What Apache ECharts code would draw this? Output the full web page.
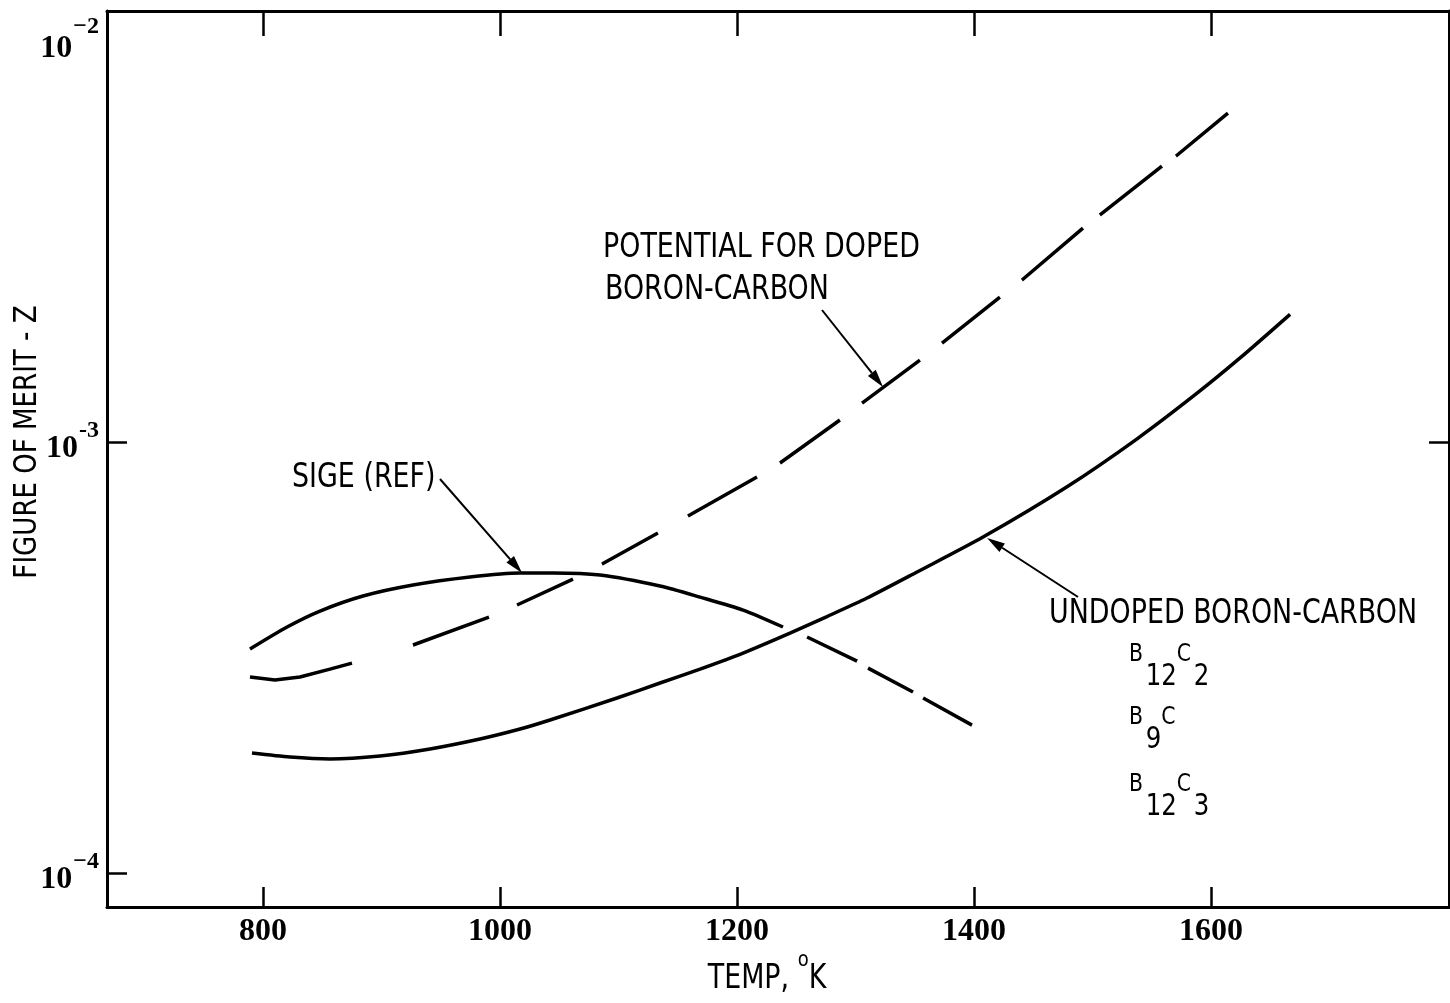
<!DOCTYPE html>
<html><head><meta charset="utf-8">
<script src="https://cdn.jsdelivr.net/npm/echarts@6/dist/echarts.min.js"></script>
<style>html,body{margin:0;padding:0;background:#fff}#c{width:1450px;height:1003px}</style>
</head><body><div id="c"></div>
<script>
// ---- tick labels ----
const xTicks = [800, 1000, 1200, 1400, 1600];
const yTicks = [1e-4, 1e-3, 1e-2];

// ---- SiGe (reference), solid part ----
const sigeT = [789.0, 820.3, 848.1, 884.4, 926.6, 974.7, 1016.9, 1044.7, 1084.4, 1135.0, 1168.8, 1205.1, 1238.8];
const sigeZ = [3.309e-4, 3.722e-4, 4.053e-4, 4.392e-4, 4.658e-4, 4.862e-4, 4.968e-4, 4.968e-4, 4.914e-4, 4.633e-4, 4.367e-4, 4.075e-4, 3.722e-4];
// ---- SiGe, dashed continuation ----
const sigeExtT = [1259.1, 1301.3, 1310.5, 1348.5, 1357.0, 1398.3];
const sigeExtZ = [3.528e-4, 3.103e-4, 2.989e-4, 2.630e-4, 2.547e-4, 2.204e-4];
// ---- Potential for doped boron-carbon (dashed) ----
const dopedT = [789.0, 810.1, 831.2, 856.5, 875.1, 926.6, 990.7, 1014.3, 1061.6, 1086.1, 1133.3, 1158.6, 1216.9, 1236.3, 1286.9, 1305.5, 1354.4, 1373.0, 1421.9, 1440.5, 1492.0, 1506.3, 1558.6, 1570.5, 1614.3];
const dopedZ = [2.850e-4, 2.805e-4, 2.850e-4, 2.973e-4, 3.070e-4, 3.381e-4, 3.926e-4, 4.185e-4, 4.809e-4, 5.210e-4, 6.150e-4, 6.735e-4, 8.294e-4, 8.938e-4, 1.125e-3, 1.231e-3, 1.550e-3, 1.697e-3, 2.170e-3, 2.376e-3, 3.137e-3, 3.363e-3, 4.369e-3, 4.609e-3, 5.799e-3];
// ---- Undoped boron-carbon ----
const undopedT = [790.7, 822.8, 856.5, 898.7, 940.9, 983.1, 1016.9, 1042.2, 1098.7, 1135.0, 1168.8, 1205.1, 1244.7, 1275.9, 1309.7, 1351.9, 1407.6, 1478.5, 1537.6, 1588.2, 1624.5, 1666.7];
const undopedZ = [1.898e-4, 1.858e-4, 1.839e-4, 1.869e-4, 1.940e-4, 2.046e-4, 2.158e-4, 2.265e-4, 2.547e-4, 2.760e-4, 2.973e-4, 3.239e-4, 3.603e-4, 3.936e-4, 4.345e-4, 4.993e-4, 6.018e-4, 7.873e-4, 1.0172e-3, 1.298e-3, 1.567e-3, 1.978e-3];

const zip = (a, b) => a.map((v, i) => [v, b[i]]);

const xMin = 668.35, xMax = 1800.8;
const yMin = 8.34e-5, yMax = 1e-2;

const NARROW = '"Liberation Sans Narrow", "DejaVu Sans Condensed", sans-serif';
const SERIF = '"Liberation Serif", "DejaVu Serif", serif';
const SQUEEZE = 0.906;

const chart = echarts.init(document.getElementById('c'), null, {renderer: 'canvas'});
const axisLineStyle = {color: '#000', width: 3};
const tickStyle = {color: '#000', width: 2.5};
const lineBase = {type: 'line', symbol: 'none', silent: true, animation: false, xAxisIndex: 0, yAxisIndex: 0};
const supBase = {fontFamily: SERIF, fontWeight: 'bold', color: '#000'};

chart.setOption({
  animation: false,
  backgroundColor: '#fff',
  grid: {left: 107, right: 1, top: 11, bottom: 96, containLabel: false, outerBoundsMode: 'none'},
  xAxis: [{
    type: 'value', min: xMin, max: xMax, position: 'bottom',
    axisLine: {show: true, lineStyle: axisLineStyle},
    axisTick: {show: true, inside: true, length: 20, lineStyle: tickStyle, customValues: xTicks},
    axisLabel: {customValues: xTicks, margin: 9, formatter: v => String(v),
      fontFamily: SERIF, fontWeight: 'bold', fontSize: 32, color: '#000'},
    splitLine: {show: false}
  }, {
    type: 'value', min: xMin, max: xMax, position: 'top',
    axisLine: {show: true, lineStyle: axisLineStyle},
    axisTick: {show: true, inside: true, length: 25, lineStyle: tickStyle, customValues: xTicks},
    axisLabel: {show: false}, splitLine: {show: false}
  }],
  yAxis: [{
    type: 'log', logBase: 10, min: yMin, max: yMax, position: 'left',
    axisLine: {show: true, lineStyle: axisLineStyle},
    axisTick: {show: true, inside: true, length: 20, lineStyle: tickStyle, customValues: [1e-4, 1e-3]},
    axisLabel: {customValues: yTicks, margin: 8,
      formatter: v => {
        const e = Math.round(Math.log10(v));
        if (e === -2) return '{bt|10}{st|\u2212' + Math.abs(e) + '}';
        if (e === -3) return '{b|10}{s|-' + Math.abs(e) + '}';
        return '{b|10}{s|\u2212' + Math.abs(e) + '}';
      },
      rich: {
        b: Object.assign({fontSize: 32, height: 30, lineHeight: 44, verticalAlign: 'bottom'}, supBase),
        s: Object.assign({fontSize: 24, height: 22, lineHeight: 44, verticalAlign: 'top', padding: [0, 0, 0, 1]}, supBase),
        bt: Object.assign({fontSize: 32, height: 30, lineHeight: 106, verticalAlign: 'bottom'}, supBase),
        st: Object.assign({fontSize: 24, height: 138, lineHeight: 106, verticalAlign: 'top', padding: [0, 0, 0, 1]}, supBase)
      }
    },
    splitLine: {show: false}
  }, {
    type: 'log', logBase: 10, min: yMin, max: yMax, position: 'right',
    axisLine: {show: true, lineStyle: axisLineStyle},
    axisTick: {show: true, inside: true, length: 20, lineStyle: tickStyle, customValues: [1e-3]},
    axisLabel: {show: false}, splitLine: {show: false}
  }],
  series: [
    Object.assign({}, lineBase, {name: 'SIGE (REF)', data: zip(sigeT, sigeZ), smooth: 0.25,
      lineStyle: {color: '#000', width: 3.5}}),
    Object.assign({}, lineBase, {name: 'SIGE (REF), extended', data: zip(sigeExtT, sigeExtZ),
      lineStyle: {color: '#000', width: 3.5, type: [55.5, 13, 51, 11.7, 56, 20]}}),
    Object.assign({}, lineBase, {name: 'POTENTIAL FOR DOPED BORON-CARBON', data: zip(dopedT, dopedZ),
      lineStyle: {color: '#000', width: 3.5,
        type: [104.2, 63.6, 81, 30.5, 61.7, 32.6, 64, 34.5, 79.3, 26.9, 73.8, 27.8, 72.2, 27.8, 74, 27.8, 80.2, 21.4, 79, 17.2, 67.5, 20]}}),
    Object.assign({}, lineBase, {name: 'UNDOPED BORON-CARBON', data: zip(undopedT, undopedZ), smooth: 0.25,
      lineStyle: {color: '#000', width: 3.5}})
  ]
});

// ---- annotations ----
const toPx = p => chart.convertToPixel({xAxisIndex: 0, yAxisIndex: 0}, p);
function arrow(tail, tip) {
  const dx = tip[0] - tail[0], dy = tip[1] - tail[1], L = Math.hypot(dx, dy);
  const ux = dx / L, uy = dy / L, hl = 18, hw = 5;
  const bx = tip[0] - ux * hl, by = tip[1] - uy * hl;
  return [
    {type: 'line', silent: true, shape: {x1: tail[0], y1: tail[1], x2: bx, y2: by}, style: {stroke: '#000', lineWidth: 2}},
    {type: 'polygon', silent: true, shape: {points: [tip, [bx - uy * hw, by + ux * hw], [bx + uy * hw, by - ux * hw]]}, style: {fill: '#000'}}
  ];
}
function label(text, x, y, size, opts) {
  const o = opts || {};
  return {type: 'text', x: x, y: y, silent: true, scaleX: SQUEEZE, rotation: o.rotation || 0,
    style: {text: text, fontFamily: NARROW, fontSize: size, fill: '#000',
      align: o.align || 'left', verticalAlign: o.valign || 'middle',
      textAlign: o.align || 'left', textVerticalAlign: o.valign || 'middle', rich: o.rich}};
}
const formulaRich = {
  b: {fontFamily: NARROW, fontSize: 25, height: 26, lineHeight: 51, fill: '#000', verticalAlign: 'top'},
  s: {fontFamily: NARROW, fontSize: 30, height: 30, lineHeight: 51, fill: '#000', verticalAlign: 'bottom', padding: [0, 0, 0, 3]}
};
const tempRich = {
  t: {fontFamily: NARROW, fontSize: 33, height: 30, lineHeight: 44, fill: '#000', verticalAlign: 'bottom'},
  o: {fontFamily: NARROW, fontSize: 22, height: 20, lineHeight: 44, fill: '#000', verticalAlign: 'top'}
};
const g = [];
g.push(label('POTENTIAL FOR DOPED', 603, 248, 33));
g.push(label('BORON-CARBON', 605, 290, 33));
g.push(label('SIGE (REF)', 292, 478, 33));
g.push(label('UNDOPED BORON-CARBON', 1049, 614, 33));
g.push(label('{b|B}{s|12}{b|C}{s|2}', 1129, 641, 25, {valign: 'top', rich: formulaRich}));
g.push(label('{b|B}{s|9}{b|C}', 1129, 704, 25, {valign: 'top', rich: formulaRich}));
g.push(label('{b|B}{s|12}{b|C}{s|3}', 1129, 771, 25, {valign: 'top', rich: formulaRich}));
// axis titles
g.push(label('{t|TEMP, }{o|o}{t|K}', 767, 950, 33, {align: 'center', valign: 'top', rich: tempRich}));
g.push(label('FIGURE OF MERIT - Z', 28, 442, 32, {align: 'center', rotation: Math.PI / 2}));
g.push(...arrow([440, 479], toPx([1018.6, 4.97e-4])));
g.push(...arrow([822, 310], toPx([1323.2, 1.342e-3])));
g.push(...arrow([1078, 597], toPx([1411.0, 5.99e-4])));
chart.setOption({graphic: g});
</script>
</body></html>
